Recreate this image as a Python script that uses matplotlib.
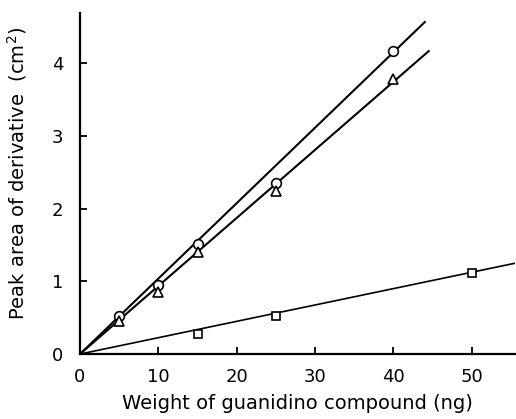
import numpy as np
import matplotlib.pyplot as plt

# data
circle_x = [5, 10, 15, 25, 40]
circle_y = [0.53, 0.95, 1.52, 2.35, 4.17]
tri_x = [5, 10, 15, 25, 40]
tri_y = [0.45, 0.85, 1.40, 2.25, 3.78]
square_x = [15, 25, 50]
square_y = [0.27, 0.52, 1.12]

# fitted lines (start/end)
circle_line_x = [0, 44]
circle_line_y = [0, 4.57]
tri_line_x = [0, 44.5]
tri_line_y = [0, 4.17]
square_line_x = [0, 55.5]
square_line_y = [0, 1.25]

fig = plt.figure(figsize=(5.16, 4.19), dpi=100)
ax = fig.add_axes([0.155, 0.155, 0.843, 0.815])

lw = 1.5
ax.plot(circle_line_x, circle_line_y, color="black", lw=lw)
ax.plot(tri_line_x, tri_line_y, color="black", lw=lw)
ax.plot(square_line_x, square_line_y, color="black", lw=1.2)

ax.plot(circle_x, circle_y, "o", ms=7, mfc="white", mec="black", mew=1.2)
ax.plot(tri_x, tri_y, "^", ms=6.5, mfc="white", mec="black", mew=1.2)
ax.plot(square_x, square_y, "s", ms=5.5, mfc="white", mec="black", mew=1.2)

ax.set_xlim(0, 55.5)
ax.set_ylim(0, 4.7)
ax.set_xticks([0, 10, 20, 30, 40, 50])
ax.set_yticks([0, 1, 2, 3, 4])

for s in ["top", "right"]:
    ax.spines[s].set_visible(False)
for s in ["left", "bottom"]:
    ax.spines[s].set_linewidth(1.6)

ax.tick_params(direction="in", length=5, width=1.3, labelsize=13)
ax.tick_params(axis="x", pad=10)
ax.tick_params(axis="y", pad=12)
ax.set_xlabel("Weight of guanidino compound (ng)", fontsize=14, labelpad=6)
ax.set_ylabel("Peak area of derivative  (cm$^2$)", fontsize=14, labelpad=12)
ax.yaxis.set_label_coords(-0.118, 0.53)

fig.savefig("out.png", dpi=100)
